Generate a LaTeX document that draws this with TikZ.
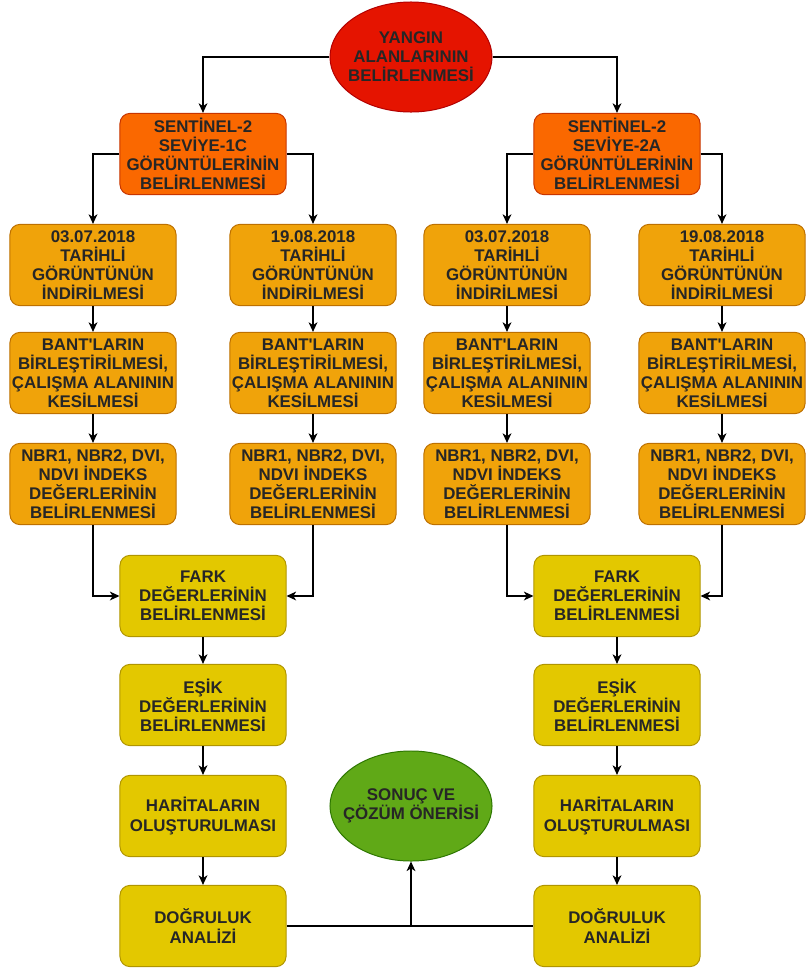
\documentclass[tikz,border=0pt]{standalone}
\usepackage{fontspec}
\setmainfont{Liberation Sans}
\usetikzlibrary{shapes.geometric,arrows.meta}
\definecolor{kirmizi}{HTML}{E51400}
\definecolor{kirmizikenar}{HTML}{B20000}
\definecolor{turuncu}{HTML}{FA6800}
\definecolor{turuncukenar}{HTML}{C73500}
\definecolor{amber}{HTML}{F0A30A}
\definecolor{amberkenar}{HTML}{BD7000}
\definecolor{sari}{HTML}{E3C800}
\definecolor{sarikenar}{HTML}{B09500}
\definecolor{yesil}{HTML}{60A917}
\definecolor{yesilkenar}{HTML}{2D7600}
\newcommand{\bant}{BANT\textquotesingle LARIN\\BİRLEŞTİRİLMESİ,\\ÇALIŞMA ALANININ\\KESİLMESİ}
\newcommand{\indeks}{NBR1, NBR2, DVI,\\NDVI İNDEKS\\DEĞERLERİNİN\\BELİRLENMESİ}
\begin{document}
\begin{tikzpicture}[x=0.025cm,y=-0.025cm,
    every node/.style={font=\bfseries\fontsize{12}{13.6}\selectfont,align=center,text=black!85},
    kutu/.style={draw,rounded corners=0.25cm,line width=0.7pt,minimum width=4.15cm,minimum height=2.03cm,inner sep=0pt},
    elips/.style={ellipse,draw,line width=0.7pt,minimum width=4.05cm,minimum height=2.75cm,inner ysep=0pt},
    seviye/.style={kutu,fill=turuncu,draw=turuncukenar},
    islem/.style={kutu,fill=amber,draw=amberkenar},
    analiz/.style={kutu,fill=sari,draw=sarikenar},
    ok/.style={line width=1pt,-{Stealth[length=2.4mm,width=2.2mm,inset=0.7mm]}}]
  \useasboundingbox (0,0) rectangle (806,974);
  \draw
    (411,57) node[elips,inner xsep=-4pt,fill=kirmizi,draw=kirmizikenar] (yangin){YANGIN\\ALANLARININ\\BELİRLENMESİ}
    (203,154) node[seviye] (s1){SENTİNEL-2\\SEVİYE-1C\\GÖRÜNTÜLERİNİN\\BELİRLENMESİ}
    (617,154) node[seviye] (s2){SENTİNEL-2\\SEVİYE-2A\\GÖRÜNTÜLERİNİN\\BELİRLENMESİ}
    (93,265) node[islem] (a1){03.07.2018\\TARİHLİ\\GÖRÜNTÜNÜN\\İNDİRİLMESİ}
    (313,265) node[islem] (b1){19.08.2018\\TARİHLİ\\GÖRÜNTÜNÜN\\İNDİRİLMESİ}
    (507,265) node[islem] (c1){03.07.2018\\TARİHLİ\\GÖRÜNTÜNÜN\\İNDİRİLMESİ}
    (722,265) node[islem] (d1){19.08.2018\\TARİHLİ\\GÖRÜNTÜNÜN\\İNDİRİLMESİ}
    (93,373) node[islem] (a2){\bant}
    (313,373) node[islem] (b2){\bant}
    (507,373) node[islem] (c2){\bant}
    (722,373) node[islem] (d2){\bant}
    (93,484) node[islem] (a3){\indeks}
    (313,484) node[islem] (b3){\indeks}
    (507,484) node[islem] (c3){\indeks}
    (722,484) node[islem] (d3){\indeks}
    (203,596) node[analiz] (f1){FARK\\DEĞERLERİNİN\\BELİRLENMESİ}
    (617,596) node[analiz] (f2){FARK\\DEĞERLERİNİN\\BELİRLENMESİ}
    (203,705) node[analiz] (e1){EŞİK\\DEĞERLERİNİN\\BELİRLENMESİ}
    (617,705) node[analiz] (e2){EŞİK\\DEĞERLERİNİN\\BELİRLENMESİ}
    (203,816) node[analiz] (h1){HARİTALARIN\\OLUŞTURULMASI}
    (617,816) node[analiz] (h2){HARİTALARIN\\OLUŞTURULMASI}
    (203,926) node[analiz] (g1){DOĞRULUK\\ANALİZİ}
    (617,926) node[analiz] (g2){DOĞRULUK\\ANALİZİ}
    (411,806) node[elips,inner xsep=-8pt,fill=yesil,draw=yesilkenar] (sonuc){SONUÇ VE\\ÇÖZÜM ÖNERİSİ};
  \coordinate (birles) at (411,926);
  \begin{scope}[ok]
    \draw (yangin) -| (s1);
    \draw (yangin) -| (s2);
    \draw (s1) -| (a1);
    \draw (s1) -| (b1);
    \draw (s2) -| (c1);
    \draw (s2) -| (d1);
    \draw (a1) to (a2);
    \draw (a2) to (a3);
    \draw (b1) to (b2);
    \draw (b2) to (b3);
    \draw (c1) to (c2);
    \draw (c2) to (c3);
    \draw (d1) to (d2);
    \draw (d2) to (d3);
    \draw (a3) |- (f1);
    \draw (b3) |- (f1);
    \draw (c3) |- (f2);
    \draw (d3) |- (f2);
    \draw (f1) to (e1);
    \draw (e1) to (h1);
    \draw (h1) to (g1);
    \draw (f2) to (e2);
    \draw (e2) to (h2);
    \draw (h2) to (g2);
    \draw (birles) to (sonuc);
  \end{scope}
  \draw[line width=1pt] (g1) to (g2);
\end{tikzpicture}
\end{document}
